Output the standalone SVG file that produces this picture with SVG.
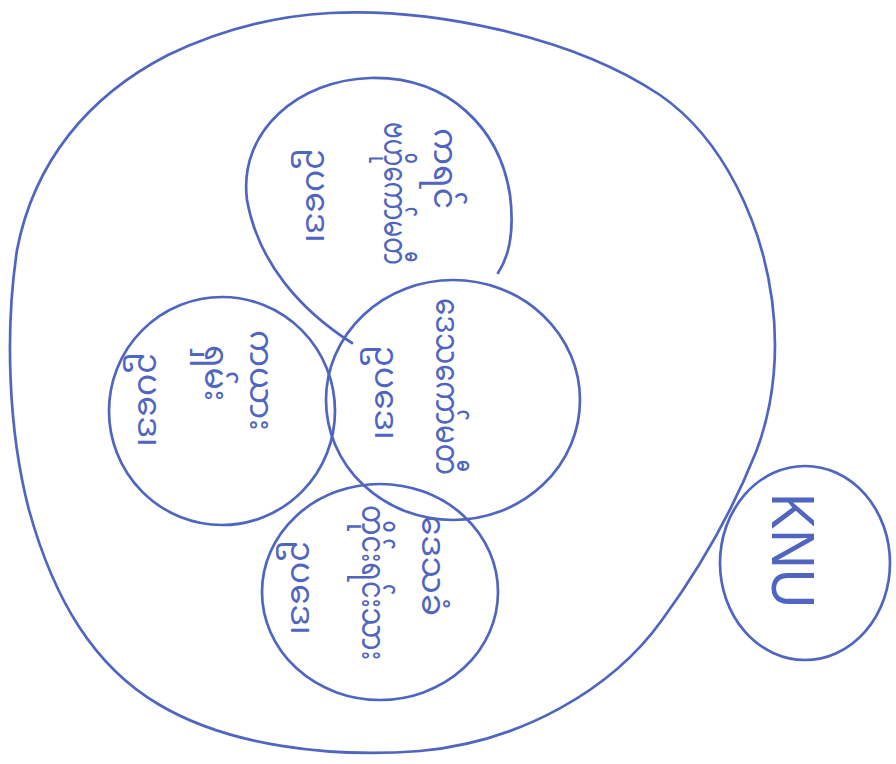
<svg xmlns="http://www.w3.org/2000/svg" width="896" height="764" viewBox="0 0 896 764">
<style>
.ln{fill:none;stroke:#4f65bf;stroke-width:2.7;stroke-linecap:round;stroke-linejoin:round}
.t{fill:#4f65bf;font-family:"Noto Sans Myanmar","Padauk","Myanmar Text","Noto Sans",sans-serif;font-size:33px}
.k{fill:#4f65bf;font-family:"Liberation Sans",sans-serif;font-size:62px}
</style>
<rect width="896" height="764" fill="#ffffff"/>
<g id="outer">
<path class="ln" d="M330,13 C430,8 570,35 660,95 C725,140 762,225 772,300 C778,345 776,400 756,452 C736,502 706,560 662,620 C612,690 520,742 420,751 C330,758 228,746 158,704 C94,666 54,600 29,510 C8,430 5,330 17,250 C34,162 88,96 168,55 C220,30 275,16 330,13 Z"/>
</g>
<g id="c1">
<path class="ln" d="M352,343 C300,310 258,262 247,200 C238,130 300,80 370,78 C450,76 500,130 510,195 C515,235 508,258 498,273"/>
<text class="t" transform="translate(434,128) rotate(90)">ကရင်</text>
<text class="t" transform="translate(384,122) rotate(90)" textLength="143" lengthAdjust="spacingAndGlyphs">ဗဟိုကော်မတီ</text>
<text class="t" transform="translate(306,148) rotate(90)">ဥပဒေ၊</text>
</g>
<g id="c2">
<ellipse class="ln" cx="222" cy="411" rx="113" ry="114"/>
<text class="t" transform="translate(250,330) rotate(90)">ကယား</text>
<text class="t" transform="translate(205,345) rotate(90)">ရှမ်း</text>
<text class="t" transform="translate(138,352) rotate(90)">ဥပဒေ၊</text>
</g>
<g id="c3">
<ellipse class="ln" cx="453" cy="400" rx="127" ry="120"/>
<text class="t" transform="translate(436,298) rotate(90)" textLength="177" lengthAdjust="spacingAndGlyphs">ဒေသကော်မတီ</text>
<text class="t" transform="translate(375,345) rotate(90)">ဥပဒေ၊</text>
</g>
<g id="c4">
<ellipse class="ln" cx="380" cy="592" rx="118" ry="108"/>
<text class="t" transform="translate(422,515) rotate(90)">ဒေသခံ</text>
<text class="t" transform="translate(362,505) rotate(90)" textLength="155" lengthAdjust="spacingAndGlyphs">တိုင်းရင်းသား</text>
<text class="t" transform="translate(291,540) rotate(90)">ဥပဒေ၊</text>
</g>
<g id="knu">
<ellipse class="ln" cx="805" cy="563" rx="85" ry="97"/>
<text class="k" transform="translate(772,493) rotate(90)" textLength="115" lengthAdjust="spacingAndGlyphs">KNU</text>
</g>
<g id="connectors"></g>
</svg>
